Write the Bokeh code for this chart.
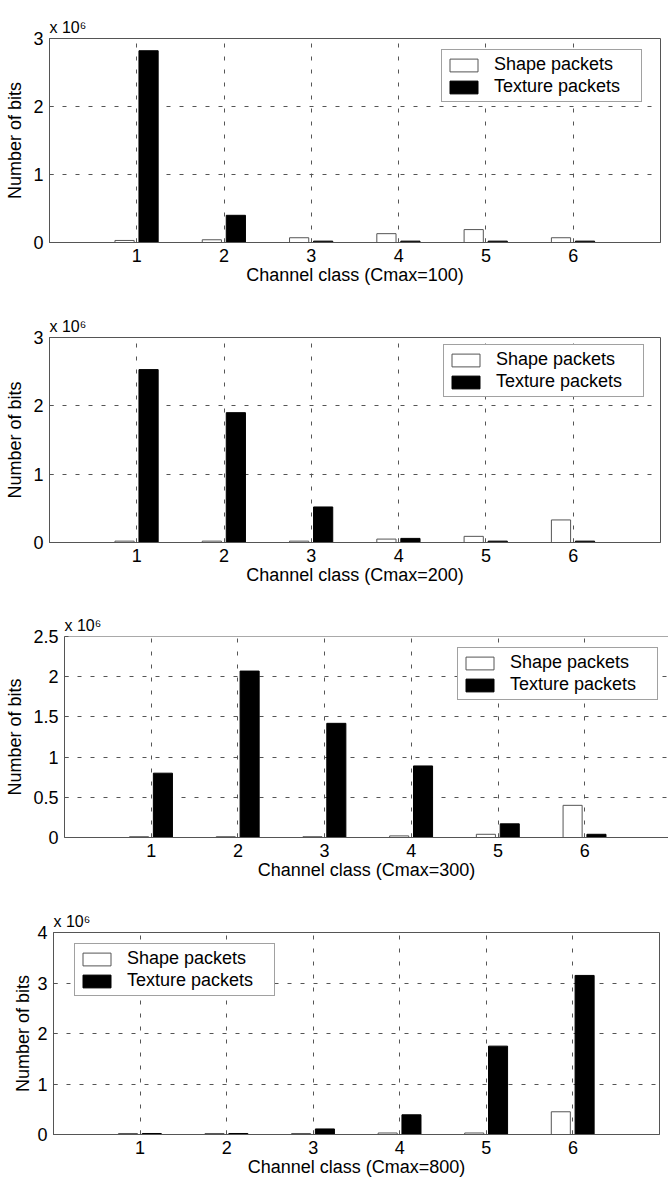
from bokeh.plotting import figure
from bokeh.models import (ColumnDataSource, FixedTicker, Legend, LegendItem,
                          Range1d, NumeralTickFormatter, Span)
from bokeh.transform import dodge
from bokeh.embed import file_html
from bokeh.resources import INLINE

# ---------------- data (values in units of 10^6 bits) ----------------
channel_class = [1, 2, 3, 4, 5, 6]

shape_cmax100 = [0.03, 0.04, 0.07, 0.13, 0.19, 0.07]
texture_cmax100 = [2.82, 0.40, 0.02, 0.02, 0.02, 0.02]

shape_cmax200 = [0.02, 0.02, 0.02, 0.05, 0.09, 0.33]
texture_cmax200 = [2.53, 1.90, 0.52, 0.06, 0.02, 0.02]

shape_cmax300 = [0.01, 0.01, 0.01, 0.02, 0.04, 0.40]
texture_cmax300 = [0.80, 2.07, 1.42, 0.89, 0.17, 0.04]

shape_cmax800 = [0.02, 0.02, 0.02, 0.03, 0.03, 0.45]
texture_cmax800 = [0.02, 0.02, 0.11, 0.39, 1.75, 3.15]

x_titles = ["Channel class (Cmax=100)", "Channel class (Cmax=200)",
            "Channel class (Cmax=300)", "Channel class (Cmax=800)"]
y_title = "Number of bits"
scale_text = "x 10\u2076"
legend_labels = ["Shape packets", "Texture packets"]
yticks_3 = [0, 1, 2, 3]
yticks_25 = [0, 0.5, 1, 1.5, 2, 2.5]
yticks_4 = [0, 1, 2, 3, 4]

FONT = "Liberation Sans"
FRAME_COLOR = "#555555"


def panel(shape, texture, xtitle, y_end, y_ticks, height, top, frame_h, left,
          right, x_end, legend_xy, ylabel_standoff, open_right=False):
    bottom = height - top - frame_h
    p = figure(width=668, height=height, x_range=Range1d(0, x_end),
               y_range=Range1d(0, y_end), output_backend="svg",
               toolbar_location=None, min_border_top=top, min_border_left=left,
               min_border_right=right, min_border_bottom=bottom,
               background_fill_color="white", border_fill_color="white",
               outline_line_color=None if open_right else FRAME_COLOR,
               outline_line_width=1)
    src = ColumnDataSource(dict(x=channel_class, shape=shape, texture=texture))
    r1 = p.vbar(x=dodge("x", -0.14), top="shape", width=0.22, source=src,
                fill_color="white", line_color="#555555", line_width=1)
    r2 = p.vbar(x=dodge("x", 0.135), top="texture", width=0.22, source=src,
                fill_color="black", line_color="black", line_width=1)

    p.xaxis.ticker = FixedTicker(ticks=channel_class)
    p.yaxis.ticker = FixedTicker(ticks=y_ticks)
    p.yaxis.formatter = NumeralTickFormatter(format="0.[0]")
    for ax in (p.xaxis, p.yaxis):
        ax.major_tick_in = 4
        ax.major_tick_out = 0
        ax.minor_tick_line_color = None
        ax.major_tick_line_color = FRAME_COLOR
        ax.axis_line_color = FRAME_COLOR
        ax.major_label_text_font = FONT
        ax.major_label_text_font_size = "18px"
        ax.major_label_text_color = "black"
        ax.major_label_standoff = 6
        ax.axis_label_text_font = FONT
        ax.axis_label_text_font_size = "18px"
        ax.axis_label_text_font_style = "normal"
        ax.axis_label_text_color = "black"
    p.yaxis.axis_label = y_title
    p.yaxis.axis_label_standoff = ylabel_standoff
    p.xaxis.axis_label = xtitle
    p.xaxis.axis_label_standoff = 0

    p.title.text = scale_text
    p.title.align = "left"
    p.title.text_font = FONT
    p.title.text_font_size = "16px"
    p.title.text_font_style = "normal"
    p.title.text_color = "black"
    p.title.standoff = 5

    p.xgrid.ticker = FixedTicker(ticks=channel_class)
    p.ygrid.ticker = FixedTicker(ticks=y_ticks)
    p.grid.grid_line_color = "#555555"
    p.grid.grid_line_dash = "4 9"
    p.grid.grid_line_width = 1

    if open_right:
        p.add_layout(Span(location=y_end, dimension="width",
                          line_color=FRAME_COLOR, line_width=1))

    legend = Legend(items=[LegendItem(label=legend_labels[0], renderers=[r1]),
                           LegendItem(label=legend_labels[1], renderers=[r2])],
                    location=legend_xy, orientation="vertical",
                    label_text_font=FONT, label_text_font_size="18px",
                    label_text_color="black", glyph_width=35, glyph_height=16,
                    label_standoff=13, label_width=143, padding=4, spacing=1,
                    margin=0, border_line_color="#444444", border_line_width=1,
                    background_fill_color="white", background_fill_alpha=1.0)
    p.add_layout(legend)
    return p


p1 = panel(shape_cmax100, texture_cmax100, x_titles[0], 3, yticks_3,
           height=295, top=38, frame_h=204, left=49, right=8, x_end=7,
           legend_xy=(392, 140), ylabel_standoff=5)
p2 = panel(shape_cmax200, texture_cmax200, x_titles[1], 3, yticks_3,
           height=295, top=42, frame_h=205, left=49, right=8, x_end=7,
           legend_xy=(394, 145), ylabel_standoff=5)
p3 = panel(shape_cmax300, texture_cmax300, x_titles[2], 2.5, yticks_25,
           height=295, top=46, frame_h=201, left=64, right=0, x_end=6.966,
           legend_xy=(393, 137), ylabel_standoff=5, open_right=True)
p4 = panel(shape_cmax800, texture_cmax800, x_titles[3], 4, yticks_4,
           height=299, top=47, frame_h=202, left=53, right=9, x_end=7,
           legend_xy=(21, 138), ylabel_standoff=1)

open("out.html", "w").write(file_html([p1, p2, p3, p4], INLINE))
